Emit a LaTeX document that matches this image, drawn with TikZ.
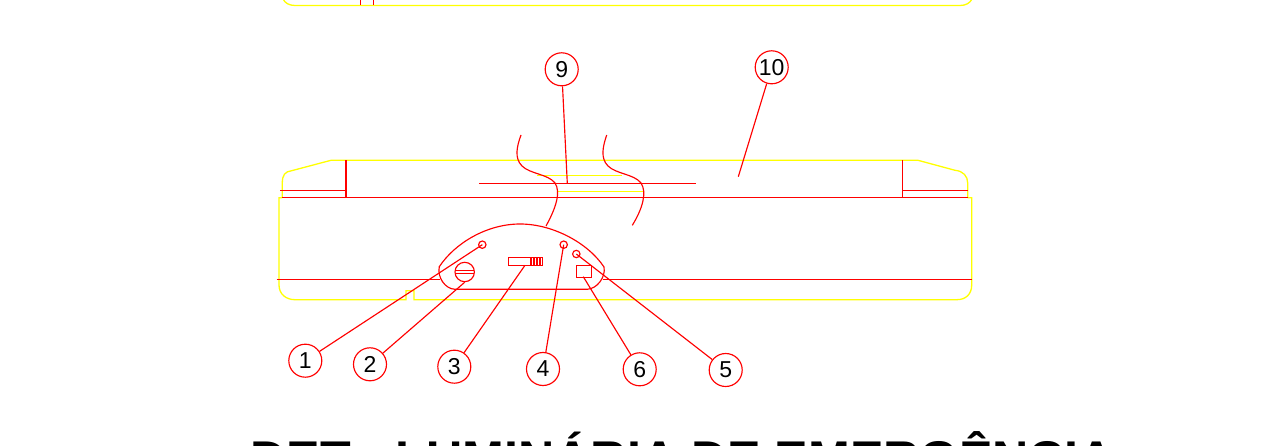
\documentclass[tikz,border=0pt]{standalone}
\usepackage{fontspec}
\setmainfont{Liberation Sans}
\definecolor{cadred}{RGB}{255,0,0}
\definecolor{cadyellow}{RGB}{255,255,0}
\tikzset{
  redline/.style={draw=cadred,line width=1.15pt},
  yelline/.style={draw=cadyellow,line width=1.3pt},
  balloon/.style={circle,draw=cadred,line width=1.15pt,minimum size=33pt,inner sep=0pt,font=\fontsize{23}{23}\selectfont,text=black},
  leader/.style={draw=cadred,line width=1.15pt}
}
\begin{document}
\begin{tikzpicture}[x=1pt,y=-1pt]
\useasboundingbox (0,0) rectangle (1261,446);
\clip (0,0) rectangle (1261,446);
% top view remainder
\draw[yelline] (283,-1) .. controls (285,3) and (289,5.5) .. (295,5.5) -- (960,5.5) .. controls (966,5.5) and (970,3) .. (972,-1);
\draw[redline] (360.5,-1) -- (360.5,5.5) (373.5,-1) -- (373.5,5.5);
% upper body
\draw[yelline] (282.3,197.7) -- (282.3,183) .. controls (282.3,175) and (285,171.5) .. (291.7,170.7) -- (331,160.3) -- (918,160.3) -- (955,170.3) .. controls (963,171) and (967.7,176) .. (967.7,183) -- (967.7,197.7);
\draw[redline] (346,160.3) -- (346,197.7) (902.7,160.3) -- (902.7,197.7);
\draw[redline] (280,190.3) -- (346,190.3) (902.7,190.3) -- (967.7,190.3);
% inner bands
\draw[yelline] (536.7,175.7) -- (621.7,175.7) (557.3,191.3) -- (643.3,191.3);
\draw[redline] (479.3,183.3) -- (695.7,183.3);
% lower body
\draw[yelline] (282,197.7) -- (279,197.7) -- (279,285) .. controls (279,294) and (286,299.7) .. (295,299.7) -- (406,299.7) -- (406,290.7) -- (414,290.7) -- (414,299.7) -- (956.7,299.7) .. controls (966,299.7) and (971.7,294) .. (971.7,285) -- (971.7,197.7) -- (967.7,197.7);
\draw[redline] (282,197.7) -- (967.7,197.7);
\draw[redline] (276.7,279.3) -- (440,279.3) (603,279.3) -- (971.7,279.3);
% break lines
\draw[redline] (521,135) .. controls (517,146) and (514,158) .. (522,166) .. controls (530,174) and (548,174) .. (555,183) .. controls (561,192) and (556,208) .. (546,226);
\draw[redline] (606.7,135) .. controls (603,146) and (600,158) .. (608,166) .. controls (616,174) and (634,174) .. (641,183) .. controls (647,192) and (643,208) .. (632.3,225.3);
% dome
\draw[redline] (455,289.3) .. controls (445,289) and (437,277) .. (439.3,266.7) .. controls (455,243) and (487,224) .. (520,224) .. controls (553,224) and (588,243) .. (604,267) .. controls (606,277) and (597,289) .. (587,289.3) -- cycle;
% controls
\node[circle,redline,minimum size=7.4pt,inner sep=0pt] (led1) at (482.3,244.7) {};
\node[circle,redline,minimum size=7.4pt,inner sep=0pt] (led4) at (563.7,244.7) {};
\node[circle,redline,minimum size=7.4pt,inner sep=0pt] (led5) at (576.3,254) {};
\node[circle,redline,minimum size=19.4pt,inner sep=0pt] (screw) at (464.7,272) {};
\draw[redline] (455.2,270.7) -- (474.2,270.7) (455.2,273.7) -- (474.2,273.7);
\node[rectangle,redline,anchor=north west,minimum width=34pt,minimum height=8pt,inner sep=0pt] (switch) at (508.3,257.3) {};
\foreach \hx in {530,531.5,...,542} {\draw[draw=cadred,line width=0.8pt] (\hx,257.3) -- (\hx,265.3);}
\node[rectangle,redline,anchor=north west,minimum width=14.4pt,minimum height=11.4pt,inner sep=0pt] (square) at (576.3,265.3) {};
% leader targets
\coordinate (t3) at (525,265.3);
\coordinate (t6) at (583.3,276.7);
\coordinate (t9) at (567.3,183.3);
\coordinate (t10) at (738.3,176.7);
% balloons
\node[balloon] (b1) at (305.3,360.7) {1};
\node[balloon] (b2) at (370,364.3) {2};
\node[balloon] (b3) at (454.3,366.7) {3};
\node[balloon] (b4) at (543,369) {4};
\node[balloon] (b6) at (639.7,369.3) {6};
\node[balloon] (b5) at (725.7,370) {5};
\node[balloon] (b9) at (561.7,69.3) {9};
\node[balloon] (b10) at (771.7,67.3) {10};
% leaders
\draw[leader] (b1) -- (led1.center);
\draw[leader] (b2) -- (screw.south);
\draw[leader] (b3) -- (t3);
\draw[leader] (b4) -- (led4.center);
\draw[leader] (b5) -- (led5.center);
\draw[leader] (b6) -- (t6);
\draw[leader] (b9) -- (t9);
\draw[leader] (b10) -- (t10);
% title, cut by the lower edge
\node[anchor=base west,inner sep=0pt,font=\fontsize{50.2}{50.2}\selectfont\bfseries] (title) at (250.5,476.7) {DET - LUMINÁRIA DE EMERGÊNCIA};
\end{tikzpicture}
\end{document}
